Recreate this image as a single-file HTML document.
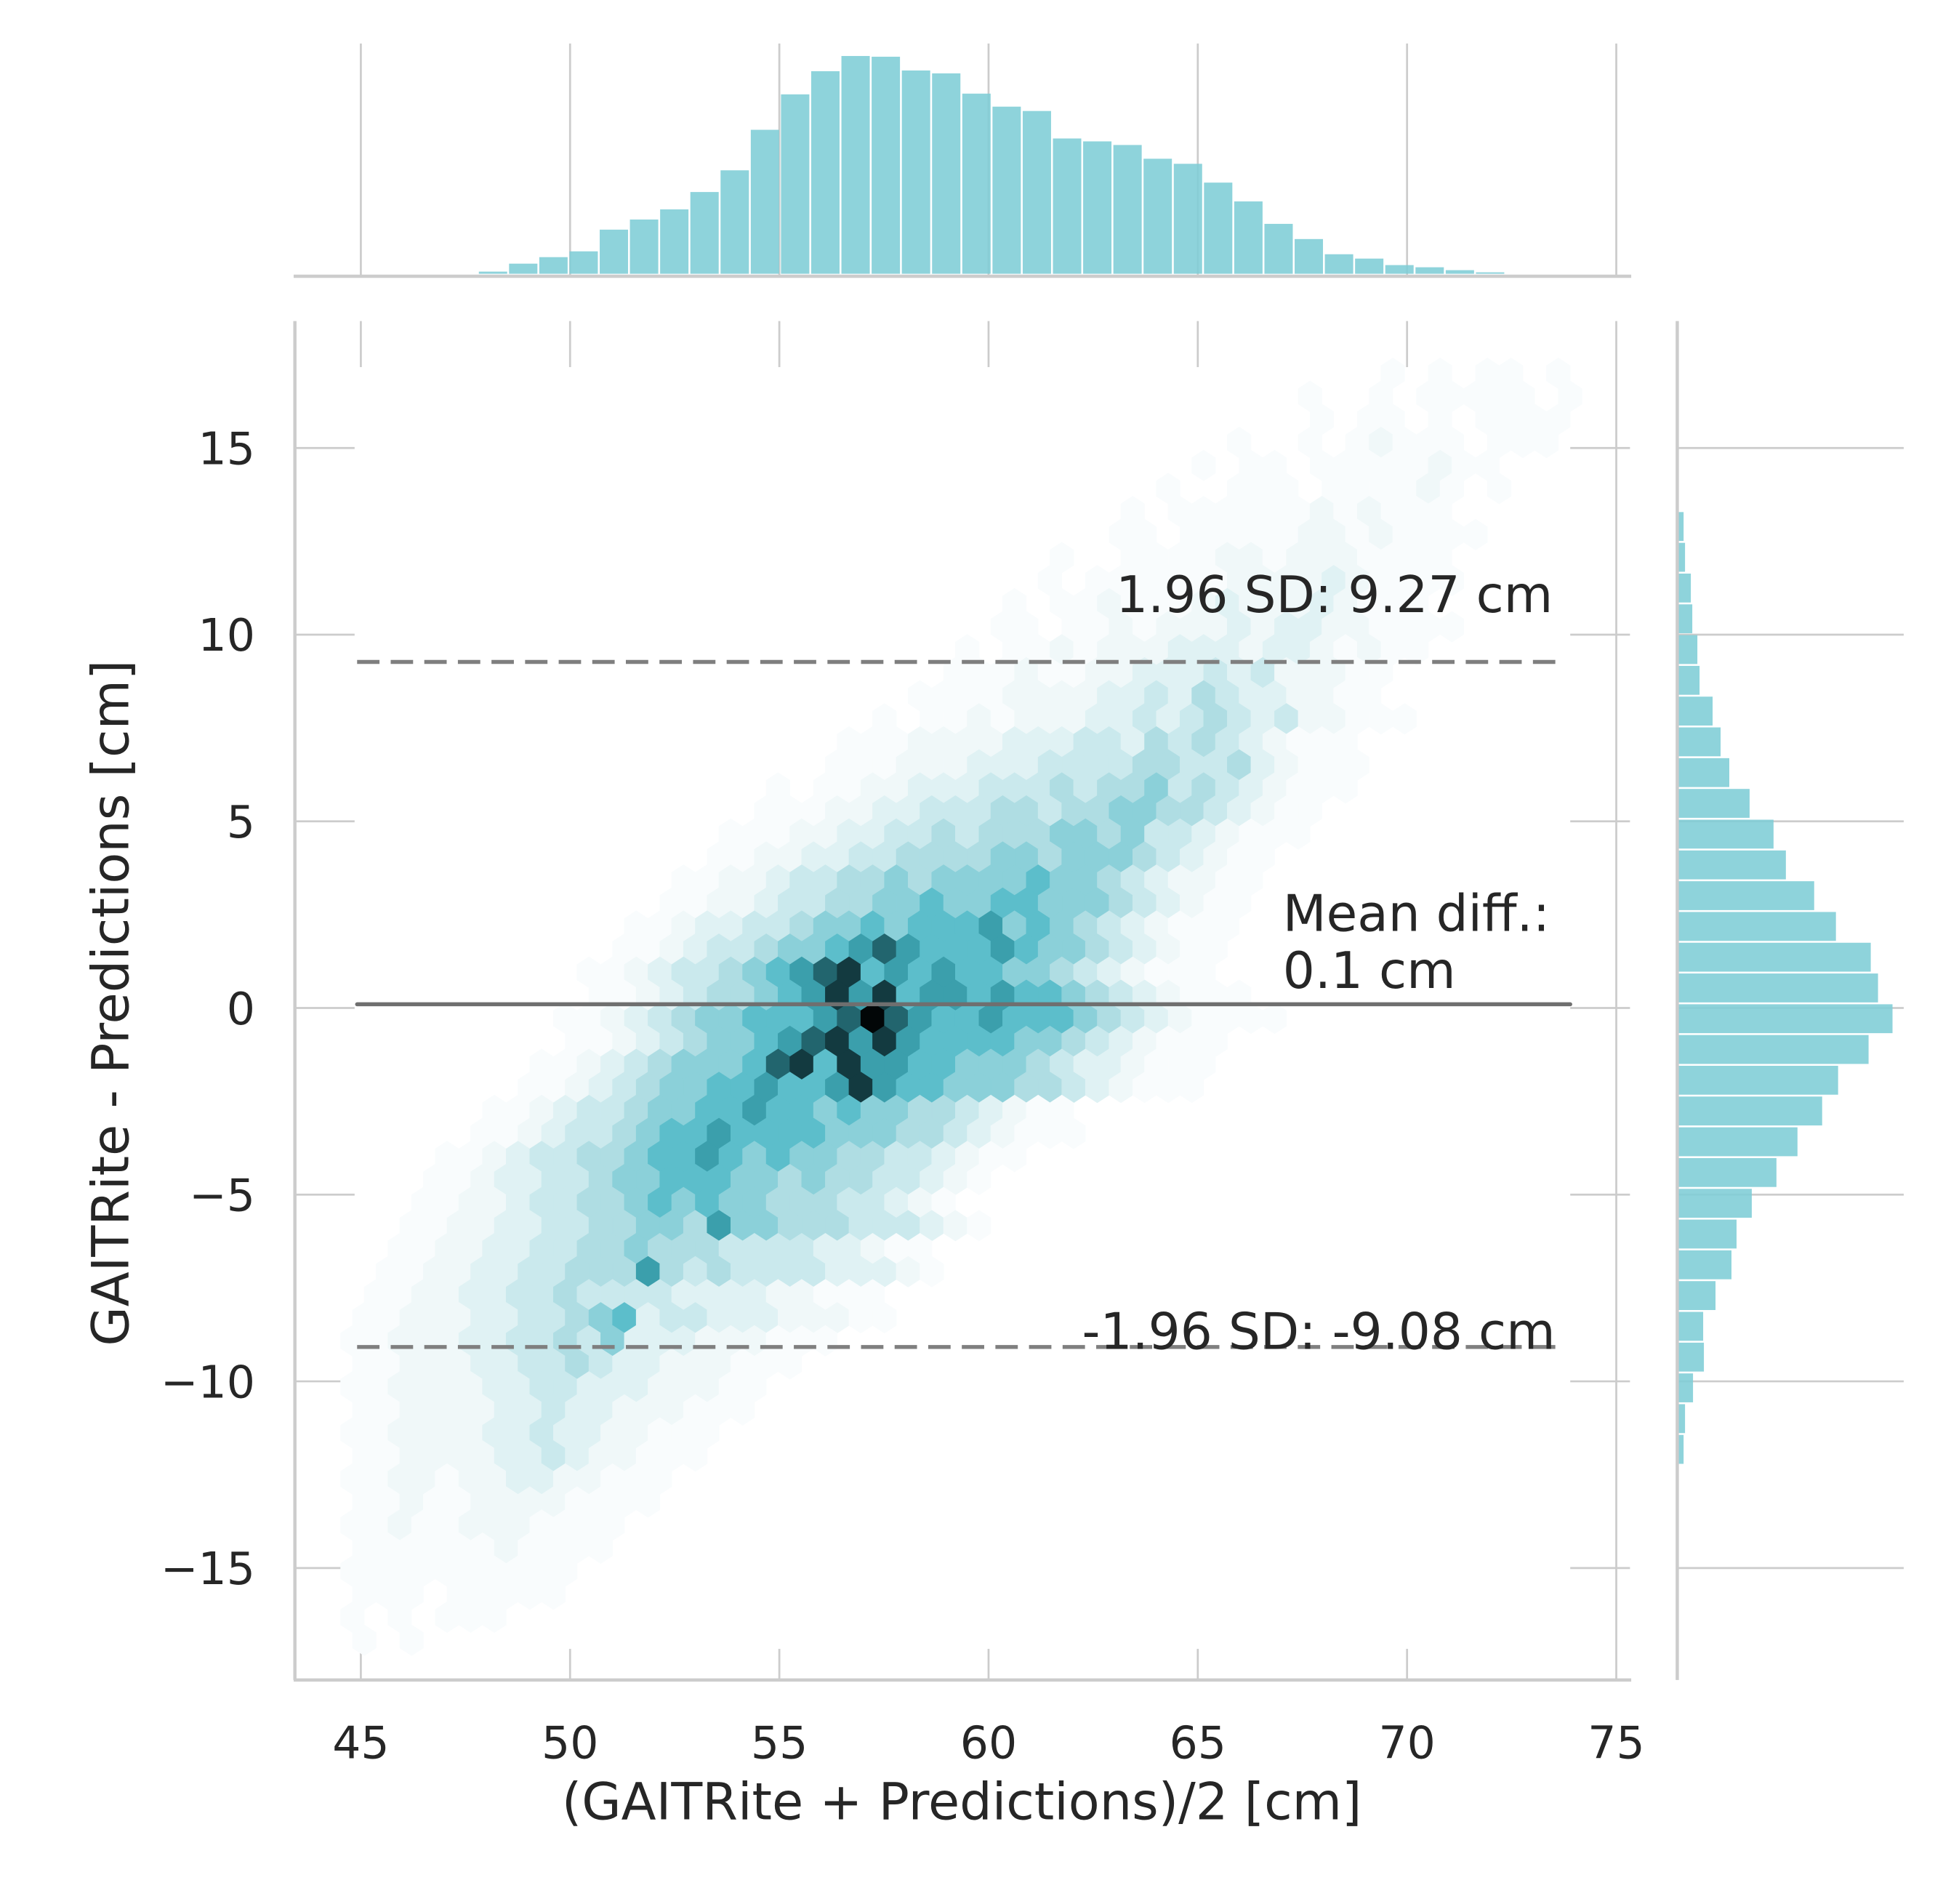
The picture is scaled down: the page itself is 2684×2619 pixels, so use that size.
<!DOCTYPE html>
<html><head><meta charset="utf-8"><style>
html,body{margin:0;padding:0;background:#fff;}
svg{display:block;}
text{font-family:"DejaVu Sans","Liberation Sans",sans-serif;fill:#262626;}
</style></head><body>
<svg id="chart" xmlns="http://www.w3.org/2000/svg" width="2684" height="2619" viewBox="0 0 1568 1530" preserveAspectRatio="none">
<rect x="0" y="0" width="1568" height="1530" fill="#fff"/>
<g id="grid"></g>
<rect x="285" y="295" width="977" height="1030" fill="#fff"/>
<g id="hexes"></g>
<g id="tophist"></g>
<g id="righthist"></g>
<g id="lines"></g>
<g id="spines"></g>
<g id="ticks"></g>
<text x="773" y="1462" font-size="41" text-anchor="middle">(GAITRite + Predictions)/2 [cm]</text>
<text x="0" y="0" font-size="41" text-anchor="middle" transform="translate(103,806) rotate(-90)">GAITRite - Predictions [cm]</text>
<text x="1248" y="492" font-size="40.5" text-anchor="end">1.96 SD: 9.27 cm</text>
<text x="1031" y="748" font-size="40.5">Mean diff.:</text>
<text x="1031" y="794" font-size="40.5">0.1 cm</text>
<text x="1250" y="1084" font-size="40.5" text-anchor="end">-1.96 SD: -9.08 cm</text>
</svg>
<script>
const xTicks=[45,50,55,60,65,70,75];
const yTicks=[15,10,5,0,-5,-10,-15];
const yTickLabels=["15","10","5","0","\u22125","\u221210","\u221215"];
const meanDiff=0.1, upperLoA=9.27, lowerLoA=-9.08;
const topHistStart=47.82, topHistWidth=0.722;
const topHistCounts=[3,14,23,31,61,75,89,113,143,199,248,280,301,300,281,277,249,231,225,187,183,178,159,152,126,100,69,48,27,21,12,9,5,2];
const rightHistStart=-12.26, rightHistWidth=0.824;
const rightHistCounts=[21,27,60,105,102,153,219,240,303,405,492,594,660,786,885,825,795,651,561,444,393,294,210,174,141,87,78,57,51,27,21];
const hexX0=44.8, hexSX=0.565, hexY0=17.0, hexSY=0.617;
const hexRows=[
[44,"1.1.11.1"],[40,"1..1.11111.1"],[41,"1.11.1.1111"],[37,"1..1.12111.111"],[36,"1.11.11111211"],
[34,"1..111.111121.1"],[33,"1.111111212111"],[32,"11.1111122121111"],[30,"1..11112212221111"],[29,"1.1111112222321111"],
[28,"1.1121112322232111"],[27,"11.11212223233221111"],[26,"1.112122233323321211"],[25,"1112112233343422211"],[24,"11112222334354332211"],
[22,"1.112122233434543422111"],[21,"1112222333443545432111"],[20,"11122233344445544532111"],[18,"1.11223334445455645432111"],[17,"111223344455455665543211"],
[16,"1112233445455566564432111"],[15,"112233445555665666543211"],[14,"1122344556566667665432211"],[13,"1122344556676677666543211"],[12,"11233445667677786765432111"],
[11,"11234456678987778766543211"],[10,"11234456789X787877665432111"],[10,"1123455678X8X788787765432111"],[9,"1123456677789K98778777654321111"],[9,"11234566789X8X87777665432111"],
[8,"11234566679X7X887766654332111"],[7,"11234566778778X87766655432111"],[6,"1123445667787767665543211"],[5,"11234456778777766655432111"],[4,"1123445567787676655443211"],
[3,"112334456677766565544321"],[3,"11223445567676655544321"],[2,"1122334455665866555444321"],[2,"11223344556555444433211"],[1,"112233445558545444433321"],
[1,"1122334454444333322111"],[0,"11222334456734433322211"],[0,"112223344546333222111"],[0,"1122233445433222111"],[0,"112222334433322211"],
[0,"11222233433222111"],[0,"1122223343322111"],[0,"112222334322111"],[0,"11221223322111"],[0,"1121122221111"],
[0,"112112221111"],[0,"11111121111"],[0,"1111111111"],[0,"111.11111"],[0,"1.1.111"],[0,"1.1"]
];
const palette={"1":"#f9fcfd","2":"#f0f8f9","3":"#e0f2f4","4":"#cae9ed","5":"#afdde3","6":"#8bd0d9","7":"#5cbecb","8":"#3b9fac","9":"#22656e","X":"#133a40","K":"#020607"};

const NS="http://www.w3.org/2000/svg";
function X(v){return 290+(v-45)*33.633;}
function Y(v){return 810-v*30;}
function mk(tag,attrs,parent){const e=document.createElementNS(NS,tag);for(const k in attrs)e.setAttribute(k,attrs[k]);parent.appendChild(e);return e;}
const grid=document.getElementById('grid');
xTicks.forEach(t=>{
 const l=mk('line',{x1:X(t),x2:X(t),y1:258,y2:1350,stroke:'#cccccc','stroke-width':1.6},grid);
 
 
 const l2=mk('line',{x1:X(t),x2:X(t),y1:35,y2:222,stroke:'#cccccc','stroke-width':1.6},grid);
 
 
});
yTicks.forEach(t=>{
 const l=mk('line',{x1:237,x2:1310,y1:Y(t),y2:Y(t),stroke:'#cccccc','stroke-width':1.6},grid);
 
 
 const l2=mk('line',{x1:1348,x2:1530,y1:Y(t),y2:Y(t),stroke:'#cccccc','stroke-width':1.6},grid);
 
 
});
const hexG=document.getElementById('hexes');
const hw=hexSX*33.633/2, hh=hexSY*30*2/3, hs=hh/2;
hexRows.forEach((row,r)=>{
 const start=row[0], s=row[1];
 for(let i=0;i<s.length;i++){
  const ch=s[i]; if(!palette[ch]) continue;
  const c=start+i;
  const cx=X(hexX0+c*hexSX+(r%2?hexSX/2:0)), cy=Y(hexY0-r*hexSY);
  const pts=[[cx+hw,cy-hs],[cx+hw,cy+hs],[cx,cy+hh],[cx-hw,cy+hs],[cx-hw,cy-hs],[cx,cy-hh]].map(p=>p[0].toFixed(2)+','+p[1].toFixed(2)).join(' ');
  const h=mk('polygon',{points:pts,fill:palette[ch],stroke:palette[ch],'stroke-width':0.4},hexG);
  
  
 }
});
const th=document.getElementById('tophist');
const tmax=Math.max(...topHistCounts), tScale=175/tmax;
topHistCounts.forEach((v,i)=>{
 const x0=X(topHistStart+i*topHistWidth), x1=X(topHistStart+(i+1)*topHistWidth);
 const b=mk('rect',{x:x0,y:220-v*tScale,width:x1-x0-1.5,height:v*tScale,fill:'#7ecdd6','fill-opacity':0.88},th);
 
 
});
const rh=document.getElementById('righthist');
const rmax=Math.max(...rightHistCounts), rScale=172/rmax;
rightHistCounts.forEach((v,i)=>{
 const y0=Y(rightHistStart+(i+1)*rightHistWidth), y1=Y(rightHistStart+i*rightHistWidth);
 const b=mk('rect',{x:1349,y:y0,width:v*rScale,height:y1-y0-1.5,fill:'#7ecdd6','fill-opacity':0.88},rh);
 
 
});
const lg=document.getElementById('lines');
const up=mk('line',{x1:287,x2:1255,y1:Y(upperLoA),y2:Y(upperLoA),stroke:'#7f7f7f','stroke-width':3.2,'stroke-dasharray':'18 9'},lg);


const lo=mk('line',{x1:287,x2:1255,y1:Y(lowerLoA),y2:Y(lowerLoA),stroke:'#7f7f7f','stroke-width':3.2,'stroke-dasharray':'18 9'},lg);


const mn=mk('line',{x1:287,x2:1262,y1:Y(meanDiff),y2:Y(meanDiff),stroke:'#6f6f6f','stroke-width':3.2,'stroke-linecap':'round'},lg);


const sp=document.getElementById('spines');
[[237,258,237,1350,'main-left-spine'],[236,1350,1311,1350,'main-bottom-spine'],[236,222,1311,222,'top-hist-baseline'],[1348,258,1348,1350,'right-hist-baseline']].forEach(a=>{
 const l=mk('line',{x1:a[0],y1:a[1],x2:a[2],y2:a[3],stroke:'#cccccc','stroke-width':2.6},sp);
 
 
});
const tg=document.getElementById('ticks');
xTicks.forEach(t=>{
 const e=mk('text',{x:X(t),y:1413,'font-size':36,'text-anchor':'middle'},tg);
 e.textContent=String(t);
 
 
});
yTicks.forEach((t,i)=>{
 const e=mk('text',{x:205,y:Y(t)+13,'font-size':36,'text-anchor':'end'},tg);
 e.textContent=yTickLabels[i];
 
 
});
</script>
</body></html>
